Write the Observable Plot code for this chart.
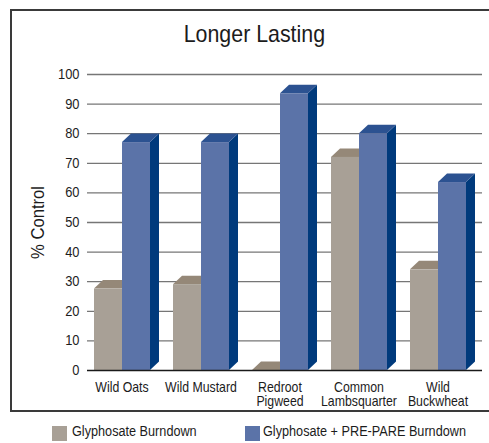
<!DOCTYPE html>
<html>
<head>
<meta charset="utf-8">
<script src="https://cdn.jsdelivr.net/npm/d3@7"></script>
<script src="https://cdn.jsdelivr.net/npm/@observablehq/plot@0.6"></script>
<style>
  html, body { margin: 0; padding: 0; background: #fff; }
  body { width: 489px; height: 443px; overflow: hidden; position: relative;
         font-family: "Liberation Sans", Arial, sans-serif; color: #1c1c1c; }
  #frame { position: absolute; left: 10px; top: 9px; width: 484px; border: 2px solid #3a3a3a; border-right: none; }
  #title { height: 49px; padding-top: 10px; box-sizing: border-box; text-align: center;
           font-size: 24px; line-height: 25px; color: #1c1c1c; }
  #title span { display: inline-block; transform: scaleX(0.89); transform-origin: 50% 50%; }
  #chart svg { display: block; }
  g[aria-label="y-axis label"] { font-size: 19px; }
  .sw { position: absolute; width: 15px; height: 15px; top: 426px; }
  .lt { position: absolute; top: 424px; font-size: 14px; line-height: 15px; color: #1c1c1c; white-space: nowrap;
        transform: scaleX(0.905); transform-origin: 0 50%; }
</style>
</head>
<body>
<div id="frame">
  <div id="title"><span>Longer Lasting</span></div>
  <div id="chart"></div>
</div>
<div id="legend"></div>
<script>
// ---- data ----
const categories = ["Wild Oats", "Wild Mustard", "Redroot Pigweed", "Common Lambsquarter", "Wild Buckwheat"];
const categoryLabels = ["Wild Oats", "Wild Mustard", "Redroot\nPigweed", "Common\nLambsquarter", "Wild\nBuckwheat"];
const seriesNames = ["Glyphosate Burndown", "Glyphosate + PRE-PARE Burndown"];
const glyphosateBurndown = [27.5, 29, 0, 72, 34];
const prePareBurndown = [77, 77, 93.5, 80, 63.5];
const yTicks = [0, 10, 20, 30, 40, 50, 60, 70, 80, 90, 100];

// ---- styles ----
const palette = {
  [seriesNames[0]]: {front: "#a8a096", top: "#958878", side: "#877b6e"},
  [seriesNames[1]]: {front: "#5b73a8", top: "#2c5291", side: "#003a7c"}
};
const DX = 9, DY = 8.5;

const seriesValues = [glyphosateBurndown, prePareBurndown];
const data = categories.flatMap((cat, i) =>
  seriesNames.map((s, j) => ({cat, series: s, value: seriesValues[j][i]})));

function bar3d(index, scales, values) {
  const X = values.x, Y1 = values.y1, Y2 = values.y2;
  const bw = scales.x.bandwidth();
  const g = d3.create("svg:g");
  for (const i of index) {
    const c = palette[data[i].series];
    const x0 = X[i], x1 = X[i] + bw, yb = Y1[i], yt = Y2[i];
    g.append("path").attr("fill", c.side)
      .attr("d", `M${x1},${yt}L${x1 + DX},${yt - DY}L${x1 + DX},${yb - DY}L${x1},${yb}Z`);
    g.append("path").attr("fill", c.top)
      .attr("d", `M${x0},${yt}L${x0 + DX},${yt - DY}L${x1 + DX},${yt - DY}L${x1},${yt}Z`);
    g.append("rect").attr("fill", c.front)
      .attr("x", x0).attr("y", yt).attr("width", bw).attr("height", Math.max(0, yb - yt));
  }
  return g.node();
}

const marginLeft = 73;
const chart = Plot.plot({
  width: 484,
  height: 350,
  marginTop: 14,
  marginBottom: 40,
  marginLeft,
  marginRight: 12,
  style: {fontFamily: '"Liberation Sans", Arial, sans-serif', color: "#1c1c1c", background: "#fff", overflow: "visible"},
  fx: {domain: categories, padding: 0},
  x: {domain: seriesNames, range: [marginLeft + 7, marginLeft + 63], padding: 0, axis: null},
  y: {domain: [0, 100]},
  marks: [
    Plot.ruleY(yTicks.filter(t => t > 0), {stroke: "#767676", strokeWidth: 1.3}),
    Plot.barY(data, {fx: "cat", x: "series", y1: () => 0, y2: "value", render: bar3d}),
    Plot.ruleY([0], {stroke: "#1a1a1a", strokeWidth: 1.4}),
    Plot.axisY({ticks: yTicks, tickSize: 0, tickPadding: 8, fontSize: 14,
                label: "% Control", labelAnchor: "center", labelOffset: 57, labelArrow: "none"}),
    Plot.axisFx({anchor: "bottom", tickSize: 0, tickPadding: 12, fontSize: 14, dx: -5, lineHeight: 1,
                 label: null, tickFormat: d => categoryLabels[categories.indexOf(d)]})
  ]
});
document.getElementById("chart").appendChild(chart);

// condensed look: compress text horizontally around its anchor
d3.select(chart).selectAll("text").each(function () {
  const label = this.closest("g[aria-label]")?.getAttribute("aria-label") || "";
  const k = label.includes("y-axis label") ? 0.875 : label.includes("y-axis") ? 0.92 : 0.88;
  let t = this.getAttribute("transform");
  if (t == null) {
    const x = +(this.getAttribute("x") || 0), y = +(this.getAttribute("y") || 0);
    this.removeAttribute("x"); this.removeAttribute("y");
    t = `translate(${x},${y})`;
  }
  this.setAttribute("transform", `${t} scale(${k},1)`);
});

// ---- legend ----
const legend = document.getElementById("legend");
const legendPos = [{sw: 52, tx: 72}, {sw: 245, tx: 263}];
seriesNames.forEach((s, j) => {
  const sw = document.createElement("div");
  sw.className = "sw"; sw.style.left = legendPos[j].sw + "px"; sw.style.background = palette[s].front;
  const t = document.createElement("div");
  t.className = "lt"; t.style.left = legendPos[j].tx + "px"; t.textContent = s;
  legend.appendChild(sw); legend.appendChild(t);
});
</script>
</body>
</html>
